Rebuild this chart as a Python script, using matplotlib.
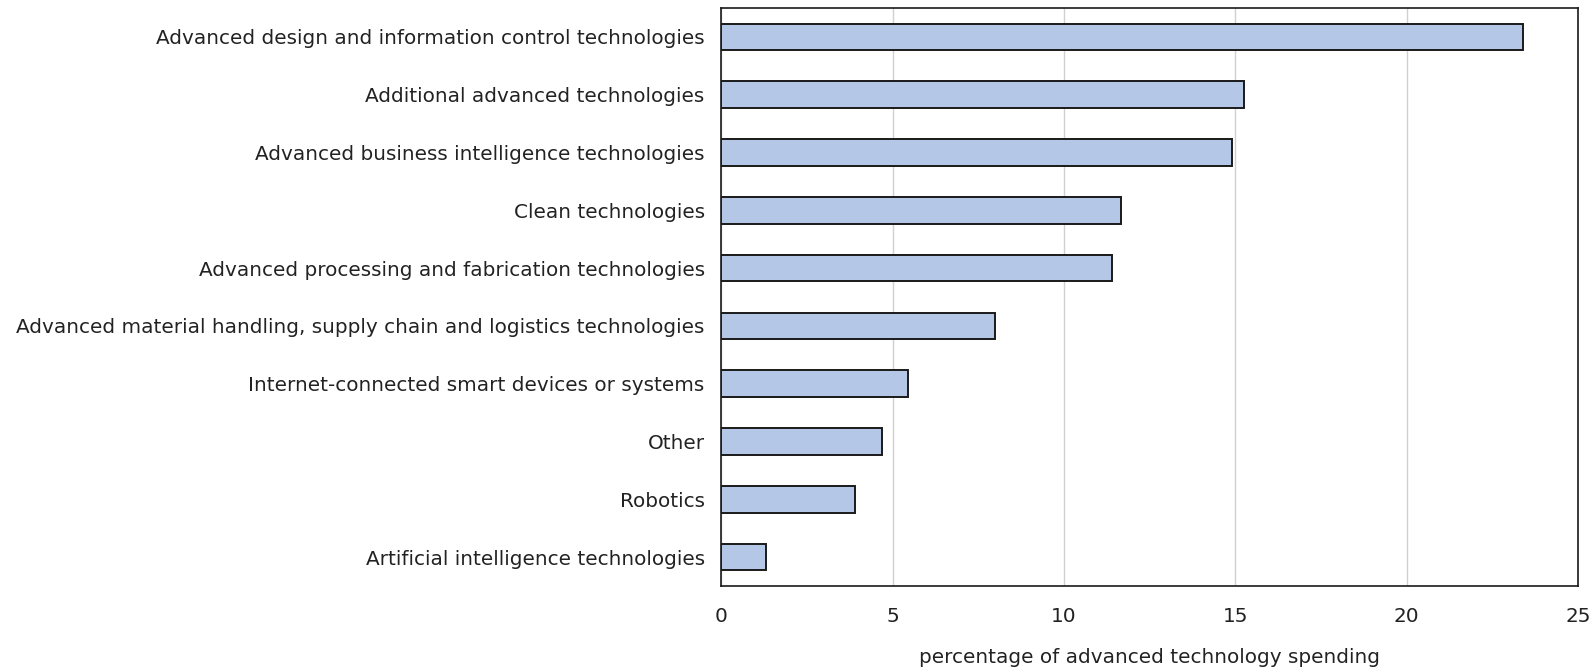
import matplotlib
matplotlib.use("Agg")
import matplotlib.pyplot as plt

categories = [
    "Advanced design and information control technologies",
    "Additional advanced technologies",
    "Advanced business intelligence technologies",
    "Clean technologies",
    "Advanced processing and fabrication technologies",
    "Advanced material handling, supply chain and logistics technologies",
    "Internet-connected smart devices or systems",
    "Other",
    "Robotics",
    "Artificial intelligence technologies",
]
values = [23.4, 15.25, 14.9, 11.65, 11.4, 8.0, 5.45, 4.7, 3.9, 1.3]
xticks = [0, 5, 10, 15, 20, 25]
xlabel = "percentage of advanced technology spending"

plt.rcParams["font.family"] = ["DejaVu Sans"]
FS = 14.45

fig = plt.figure(figsize=(15.93, 6.69), dpi=100)
ax = fig.add_axes([0.4528, 0.124, 0.5378, 0.864])

ypos = list(range(len(categories)))
ax.barh(ypos, values, height=0.46, color="#B4C7E7", edgecolor="#1a1a1a",
        linewidth=1.4, zorder=3)
ax.set_yticks(ypos)
ax.set_yticklabels(categories, fontsize=FS, color="#222222")
ax.set_ylim(len(categories) - 0.5, -0.5)
ax.set_xlim(0, 25)
ax.set_xticks(xticks)
ax.set_xticklabels([str(t) for t in xticks], fontsize=FS, color="#222222")
ax.tick_params(axis="y", length=0, pad=12)
ax.tick_params(axis="x", length=0, pad=15)
ax.xaxis.grid(True, color="#d0d0d0", linewidth=1, zorder=0)
ax.set_axisbelow(True)
for s in ax.spines.values():
    s.set_color("#1a1a1a")
    s.set_linewidth(1.2)
ax.set_xlabel(xlabel, fontsize=FS, color="#222222", labelpad=16)

fig.savefig("out.png", dpi=100)
